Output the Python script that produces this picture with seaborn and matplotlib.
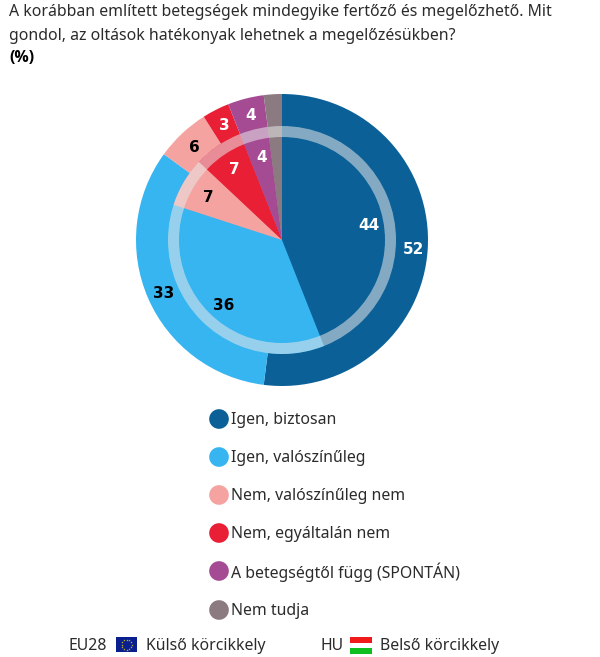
import numpy as np
import matplotlib
matplotlib.use("Agg")
import matplotlib.pyplot as plt
from matplotlib.patches import Rectangle
import seaborn as sns

categories = ["Igen, biztosan", "Igen, valószínűleg", "Nem, valószínűleg nem",
              "Nem, egyáltalán nem", "A betegségtől függ (SPONTÁN)", "Nem tudja"]
eu28_values = [52, 33, 6, 3, 4, 2]
hu_values = [44, 36, 7, 7, 4, 2]
slice_colors = ["#0b6197", "#36b5f1", "#f4a3a0", "#e81f35", "#a44b94", "#8b7a80"]

sns.set_theme(style="white")
plt.rcParams['font.family'] = ['Noto Sans', 'DejaVu Sans']
palette = sns.color_palette(slice_colors)
TEXT = "#2b2b2b"
BOLD = ['Open Sans', 'DejaVu Sans']
FS = 11.4

fig = plt.figure(figsize=(6, 6.57), dpi=100)

# pies want a y-up circle, text below is placed in image pixels
pie_ax = fig.add_axes([0, 0, 1, 1])
center = (282, 657 - 240)
no_edge = dict(linewidth=0)
pie_ax.pie(eu28_values, colors=palette, startangle=90, counterclock=False,
           radius=146, center=center, frame=True, wedgeprops=no_edge)
pie_ax.pie(hu_values, colors=palette, startangle=90, counterclock=False,
           radius=114, center=center, frame=True, wedgeprops=no_edge)
pie_ax.pie([1], colors=["#e8e8e8"], radius=114, center=center, frame=True,
           wedgeprops=dict(width=11, alpha=0.55, linewidth=0))
pie_ax.set_xlim(0, 600)
pie_ax.set_ylim(0, 657)
pie_ax.set_aspect("equal")
pie_ax.axis("off")

txt_ax = fig.add_axes([0, 0, 1, 1])
txt_ax.set_xlim(0, 600)
txt_ax.set_ylim(657, 0)
txt_ax.axis("off")
txt_ax.patch.set_alpha(0)

# slice labels
outer_pos = [(414, 250), (164, 293), (194, 147), (224, 125), (251, 115)]
inner_pos = [(369, 226), (224, 305), (208, 198), (234, 170), (262, 157)]
label_cols = ["white", "black", "black", "white", "white"]
for vals, positions in ((eu28_values, outer_pos), (hu_values, inner_pos)):
    for v, p, c in zip(vals, positions, label_cols):
        txt_ax.text(p[0], p[1], str(v), color=c, fontsize=11, fontweight="bold",
                    family="DejaVu Sans", ha="center", va="center")

# title
txt_ax.text(9, 12, "A korábban említett betegségek mindegyike fertőző és megelőzhető. Mit",
            fontsize=FS, color=TEXT, va="center")
txt_ax.text(9, 36, "gondol, az oltások hatékonyak lehetnek a megelőzésükben?",
            fontsize=FS, color=TEXT, va="center")
txt_ax.text(9, 58, "(%)", fontsize=FS, fontweight="bold", family=BOLD, color="black", va="center")

# legend rows
row_y = [419, 457, 495, 533, 571, 610]
txt_ax.scatter([219] * len(row_y), row_y, s=200, c=slice_colors, linewidths=0)
for name, y in zip(categories, row_y):
    txt_ax.text(231, y + 1, name, fontsize=FS, color=TEXT, va="center")

# footer
txt_ax.text(68, 646, "EU28", fontsize=FS, color=TEXT, va="center")
txt_ax.text(146, 646, "Külső körcikkely", fontsize=FS, color=TEXT, va="center")
txt_ax.text(320, 646, "HU", fontsize=FS, color=TEXT, va="center")
txt_ax.text(380, 646, "Belső körcikkely", fontsize=FS, color=TEXT, va="center")

txt_ax.add_patch(Rectangle((116, 637), 21, 15, color="#0a1f8f", lw=0))
star_angles = np.arange(12) * 2 * np.pi / 12
txt_ax.scatter(126.5 + 5 * np.cos(star_angles), 644.5 + 5 * np.sin(star_angles),
               marker="*", s=3, color="#c8b820", linewidths=0)

txt_ax.add_patch(Rectangle((350, 637), 22, 6, color="#f01a1a", lw=0))
txt_ax.add_patch(Rectangle((350, 648), 22, 5.5, color="#0fbf1f", lw=0))

fig.savefig("out.png", dpi=100)
